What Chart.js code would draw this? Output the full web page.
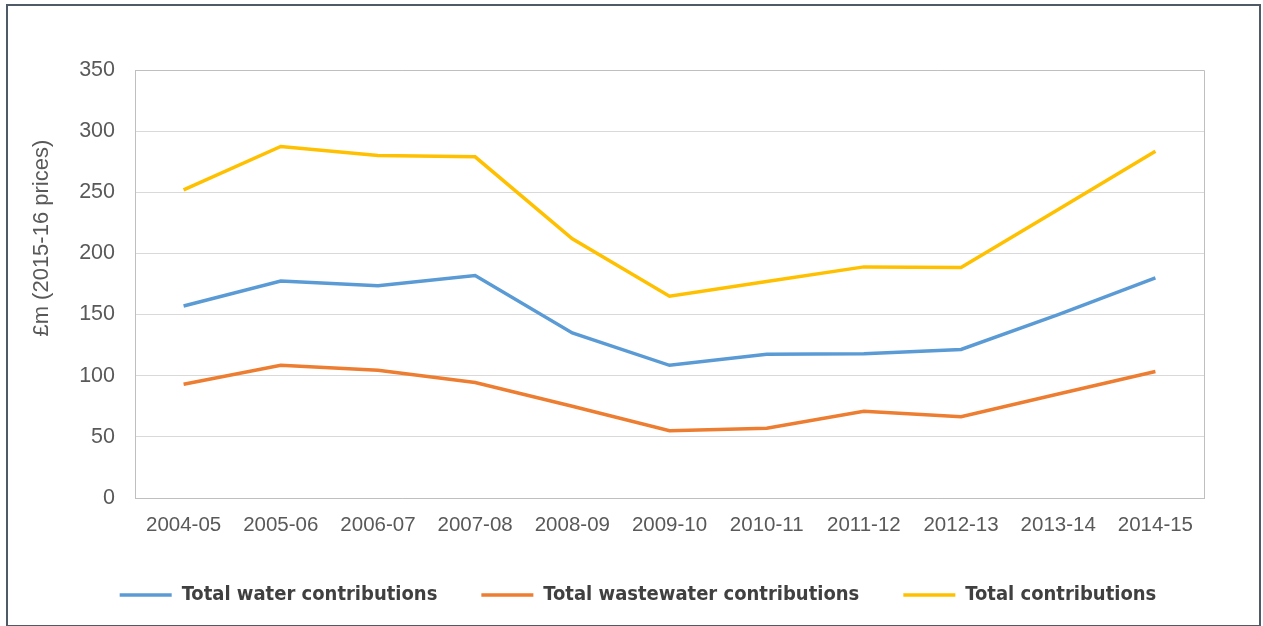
<!DOCTYPE html>
<html>
<head>
<meta charset="utf-8">
<title>Contributions, 2004-05 to 2014-15</title>
<script src="https://cdn.jsdelivr.net/npm/chart.js@4/dist/chart.umd.min.js"></script>
<style>
  html, body { margin: 0; padding: 0; background: #ffffff; }
  #wrap { position: relative; width: 1263px; height: 626px; overflow: hidden; }
  #frame {
    position: absolute; left: 6px; top: 4px; width: 1251px; height: 619px;
    border: 2px solid #4f5a67; box-sizing: content-box; pointer-events: none;
  }
  canvas { position: absolute; left: 0; top: 0; }
</style>
</head>
<body>
<div id="wrap">
  <canvas id="chart" width="1263" height="626"></canvas>
  <div id="frame"></div>
</div>
<script>
// Financial years on the category axis
const years = ['2004-05', '2005-06', '2006-07', '2007-08', '2008-09', '2009-10',
               '2010-11', '2011-12', '2012-13', '2013-14', '2014-15'];

// £m, 2015-16 prices
const waterContributions      = [157, 177.5, 173.5, 182, 135, 108.5, 117.5, 118, 121.5, 150, 180];
const wastewaterContributions = [93, 108.5, 104.5, 94.5, 75, 55, 57, 71, 66.5, 85, 103.5];
const totalContributions      = [252, 287.5, 280, 279, 212, 165, 177, 189, 188.5, 236, 283.5];

// Value axis
const yMin = 0;
const yMax = 350;
const yStep = 50;
// leading spaces lift the rotated title above the middle of the axis
const yTitle = ' '.repeat(15) + '£m (2015-16 prices)';

const tickColor = '#595959';
const gridColor = '#d9d9d9';
const frameColor = '#bfbfbf';

// Outline the plot area on its top and right edges
const plotFrame = {
  id: 'plotFrame',
  beforeDatasetsDraw(chart) {
    const { ctx, chartArea: a } = chart;
    ctx.save();
    ctx.strokeStyle = frameColor;
    ctx.lineWidth = 1;
    ctx.beginPath();
    ctx.moveTo(Math.round(a.left) + 0.5, Math.round(a.top) + 0.5);
    ctx.lineTo(Math.round(a.right) + 0.5, Math.round(a.top) + 0.5);
    ctx.lineTo(Math.round(a.right) + 0.5, Math.round(a.bottom) + 0.5);
    ctx.stroke();
    ctx.restore();
  }
};

// Centre the legend row under the whole frame rather than the plot column
const legendShift = {
  id: 'legendShift',
  afterLayout(chart) {
    const lg = chart.legend;
    if (!lg) return;
    const dx = 36;
    lg.left += dx;
    lg.right += dx;
  }
};

const lineDataset = (label, data, color) => ({
  label,
  data,
  borderColor: color,
  backgroundColor: color,
  borderWidth: 3.5,
  pointRadius: 0,
  pointHoverRadius: 0,
  tension: 0,
  fill: false,
  pointStyle: 'line'
});

new Chart(document.getElementById('chart'), {
  type: 'line',
  data: {
    labels: years,
    datasets: [
      lineDataset('Total water contributions', waterContributions, '#5b9bd5'),
      lineDataset('Total wastewater contributions', wastewaterContributions, '#ed7d31'),
      lineDataset('Total contributions', totalContributions, '#ffc000')
    ]
  },
  options: {
    responsive: false,
    animation: false,
    layout: { padding: { left: 0, right: 59, top: 70, bottom: 11 } },
    plugins: {
      tooltip: { enabled: false },
      legend: {
        position: 'bottom',
        labels: {
          usePointStyle: true,
          pointStyleWidth: 52,
          padding: 44,
          color: '#404040',
          font: { family: "'Liberation Sans Narrow', 'DejaVu Sans Condensed', 'Liberation Sans', sans-serif", size: 20, weight: 'bold' }
        }
      }
    },
    scales: {
      x: {
        offset: true,
        grid: { display: false, drawTicks: false },
        border: { display: true, color: frameColor, width: 1 },
        ticks: {
          color: tickColor,
          padding: 15,
          maxRotation: 0,
          autoSkip: false,
          font: { family: "'Liberation Sans', Arial, sans-serif", size: 20.5 }
        },
        afterFit(scale) { scale.height = 43; }
      },
      y: {
        min: yMin,
        max: yMax,
        grid: { color: gridColor, lineWidth: 1, drawTicks: false },
        border: { display: true, color: frameColor, width: 1 },
        ticks: {
          stepSize: yStep,
          color: tickColor,
          padding: 20,
          font: { family: "'Liberation Sans', Arial, sans-serif", size: 21.5 }
        },
        title: {
          display: true,
          text: yTitle,
          color: tickColor,
          padding: { top: 29, bottom: 0 },
          font: { family: "'Liberation Sans', Arial, sans-serif", size: 22 }
        },
        afterFit(scale) { scale.width = 135; }
      }
    }
  },
  plugins: [plotFrame, legendShift]
});
</script>
</body>
</html>
